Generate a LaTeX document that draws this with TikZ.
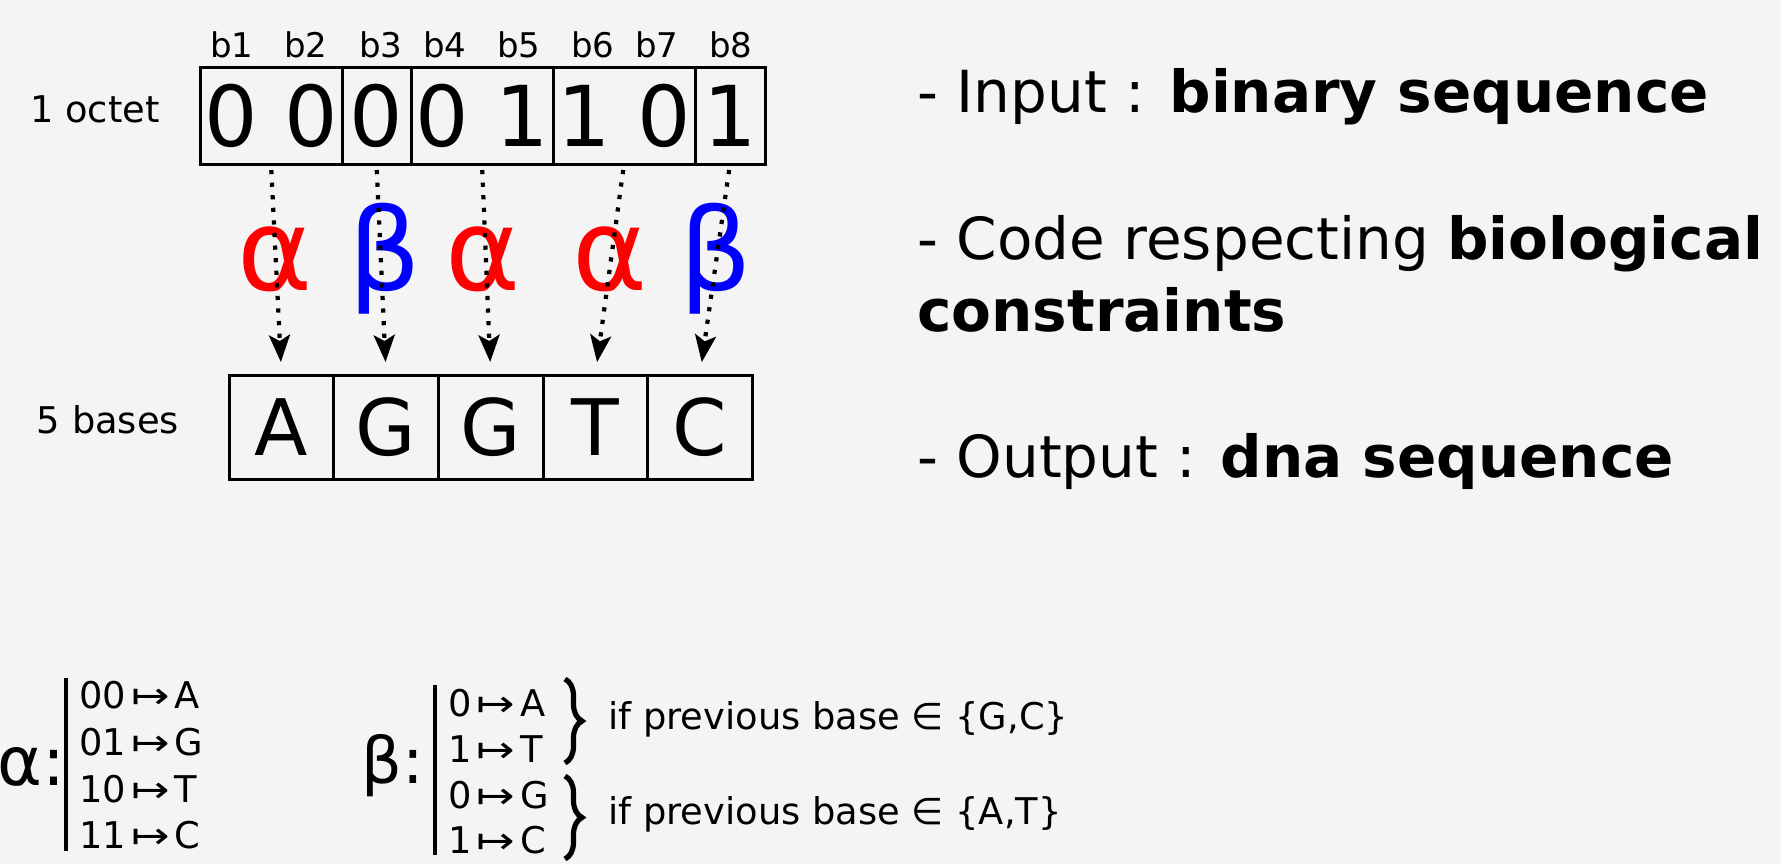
\documentclass[tikz,border=0pt]{standalone}
\usepackage{fontspec}
\setmainfont{DejaVu Sans}
\usepackage{xcolor}
\usepackage{tikz}
\usetikzlibrary{positioning}
\usetikzlibrary{arrows.meta}
\usetikzlibrary{decorations.pathreplacing}
\definecolor{paper}{HTML}{F4F4F4}
\tikzset{
  bitbox/.style={%
    draw,
    line width=1.5pt,
    inner sep=0,
    outer sep=0,
    minimum height=48.5pt,
    font=\fontsize{42}{42}\selectfont,
  },
  basebox/.style={%
    draw,
    line width=1.5pt,
    inner sep=0,
    outer sep=0,
    minimum width=52.3pt,
    minimum height=52pt,
    font=\fontsize{39}{39}\selectfont,
  },
  coding/.style={%
    anchor=base,
    inner sep=0,
    font=\fontsize{57}{57}\selectfont,
  },
  smalltext/.style={%
    inner sep=0,
    font=\fontsize{18.4}{22}\selectfont,
  },
  bigtext/.style={%
    anchor=base west,
    inner sep=0,
    font=\fontsize{29}{36}\selectfont,
  },
  dotarrow/.style={%
    line width=2.1pt,
    dash pattern=on 2.1pt off 4.2pt,
    -{Stealth[length=13.5pt,width=10.5pt,inset=3pt]},
    shorten <=3pt,
    shorten >=6.5pt,
  },
  setbrace/.style={%
    decorate,
    decoration={brace,amplitude=8.5pt},
    line width=2.6pt,
  }
}
\newcommand\mapsarrow{\hspace{2.5pt}\scalebox{1.25}[1]{↦}\hspace{2.5pt}}

\begin{document}
\begin{tikzpicture}[x=0.5pt,y=-0.5pt]
    \fill[paper] (0,0) rectangle (1781,864);
    \useasboundingbox (0,0) rectangle (1781,864);
    % the octet
    \node (grp1) [bitbox,minimum width=71pt] at (271,115.5) {0 0};
    \node (grp2) [bitbox,minimum width=34.5pt,right=0pt of grp1] {0};
    \node (grp3) [bitbox,minimum width=71pt,right=0pt of grp2] {0 1};
    \node (grp4) [bitbox,minimum width=71pt,right=0pt of grp3] {1 0};
    \node (grp5) [bitbox,minimum width=35pt,right=0pt of grp4] {1};
    \foreach \x [count=\i] in {232,306,381,445,519,593,657,731}
        \node (bit\i) [smalltext,font=\fontsize{17}{20}\selectfont,anchor=base] at (\x,57) {b\i};
    \node (octet) [smalltext,anchor=base] at (95,122) {1 octet};
    % the bases
    \node (base1) [basebox] at (281.5,427) {A};
    \node (base2) [basebox,right=0pt of base1] {G};
    \node (base3) [basebox,right=0pt of base2] {G};
    \node (base4) [basebox,right=0pt of base3] {T};
    \node (base5) [basebox,right=0pt of base4] {C};
    \node (bases) [smalltext,anchor=base] at (108,433) {5 bases};
    % alpha / beta steps
    \node (code1) [coding,red] at (275,290) {α};
    \node (code2) [coding,blue] at (385,290) {β};
    \node (code3) [coding,red] at (483,290) {α};
    \node (code4) [coding,red] at (610,290) {α};
    \node (code5) [coding,blue] at (716,290) {β};
    \foreach \i in {1,...,5}
        \draw [dotarrow] (grp\i.south) -- (base\i.north);
    % notes on the right
    \node (input) [bigtext] at (917,112) {- Input : \textbf{binary sequence}};
    \node (rule) [bigtext] at (917,259) {- Code respecting \textbf{biological}};
    \node (constr) [bigtext] at (917,331) {\textbf{constraints}};
    \node (output) [bigtext] at (917,477) {- Output : \textbf{dna sequence}};
    % alpha table
    \node (alpha) [inner sep=0,anchor=base west,font=\fontsize{34}{34}\selectfont] at (-3,785) {α:};
    \draw [line width=2pt] (66,678) -- (66,851);
    \foreach \k/\v/\y in {00/A/708,01/G/755,10/T/802,11/C/848}
        \node (a\k) [smalltext,anchor=base west] at (79,\y) {\k\mapsarrow\v};
    % beta table
    \node (beta) [inner sep=0,anchor=base west,font=\fontsize{32}{32}\selectfont] at (361,783) {β:};
    \draw [line width=2pt] (435,685) -- (435,855);
    \foreach \k/\v/\y [count=\i] in {0/A/716,1/T/762,0/G/808,1/C/853}
        \node (b\i) [smalltext,anchor=base west] at (448,\y) {\k\mapsarrow\v};
    \draw [setbrace] (565,679) -- (565,763);
    \draw [setbrace] (565,776) -- (565,859);
    \node (ifgc) [smalltext,anchor=west] at (608,719) {if previous base ∈ \{G,C\}};
    \node (ifat) [smalltext,anchor=west] at (608,814) {if previous base ∈ \{A,T\}};
\end{tikzpicture}
\end{document}
